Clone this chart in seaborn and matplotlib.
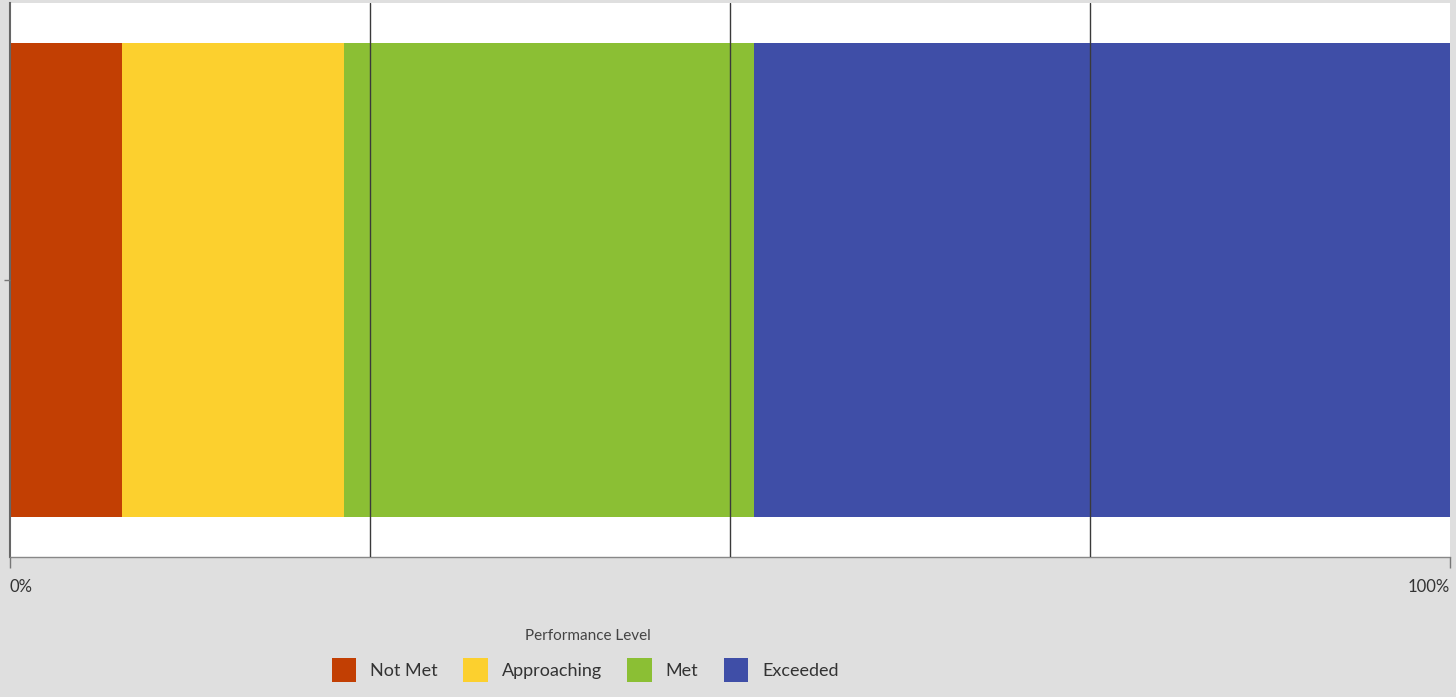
import matplotlib
matplotlib.use("Agg")
import matplotlib.pyplot as plt
import seaborn as sns
import pandas as pd
import numpy as np
from matplotlib.patches import Patch

# Share of students at each performance level (percent)
levels = ["Not Met", "Approaching", "Met", "Exceeded"]
shares = [7.8, 15.4, 28.5, 48.3]
colors = ["#c23f03", "#fcd02e", "#8bbf34", "#3f4ea7"]
group = ["All Students"]
tick_values = [0, 100]
tick_labels = ["0%", "100%"]
grid_values = [25, 50, 75]

sns.set_style("white")
plt.rcParams["font.family"] = ["Lato", "DejaVu Sans"]

fig = plt.figure(figsize=(14.56, 6.97), dpi=100, facecolor="#dfdfdf")
ax = fig.add_axes([10 / 1456, 140 / 697, 1440 / 1456, 554 / 697])
ax.set_facecolor("white")

# Stacked bar: draw cumulative totals from the longest down so each segment shows
cumulative = np.cumsum(shares)
df = pd.DataFrame({"group": group * len(levels), "level": levels, "cum": cumulative})
for i in reversed(range(len(levels))):
    sns.barplot(data=df.iloc[[i]], x="cum", y="group", orient="h",
                color=colors[i], width=0.854, linewidth=0, saturation=1, ax=ax)

ax.set_xlim(0, 100)
ax.set_ylim(0.5, -0.5)
ax.set_xlabel("")
ax.set_ylabel("")
ax.set_yticklabels([""])

ax.set_xticks(tick_values)
ax.set_xticklabels(tick_labels, fontsize=12, color="#333333")
labels = ax.get_xticklabels()
labels[0].set_horizontalalignment("left")
labels[-1].set_horizontalalignment("right")
ax.set_xticks(grid_values, minor=True)
ax.grid(which="minor", axis="x", color="#3a3a3a", linewidth=1)
ax.grid(which="major", visible=False)
ax.set_axisbelow(False)
ax.tick_params(axis="x", which="major", bottom=True, length=8, width=1,
               color="#777777", pad=8, direction="out")
ax.tick_params(axis="x", which="minor", bottom=False, length=0)
ax.tick_params(axis="y", left=True, length=4, width=1, color="#777777", direction="out")

for side in ["top", "right"]:
    ax.spines[side].set_visible(False)
ax.spines["left"].set_color("#666666")
ax.spines["left"].set_linewidth(1.5)
ax.spines["bottom"].set_color("#888888")
ax.spines["bottom"].set_linewidth(1)

# Legend below the axes, with its title set a little apart from the entries
fig.text(0.404, 0.0875, "Performance Level", ha="center", va="center",
         fontsize=11, color="#444444")
handles = [Patch(facecolor=c, edgecolor="none", label=l) for l, c in zip(levels, colors)]
leg = fig.legend(handles=handles, ncol=4, loc="center", bbox_to_anchor=(0.402, 0.039),
                 frameon=False, fontsize=13,
                 handlelength=1.35, handleheight=1.65, columnspacing=1.4, handletextpad=0.78)
for t in leg.get_texts():
    t.set_color("#333333")

fig.savefig("out.png", dpi=100, facecolor=fig.get_facecolor())
